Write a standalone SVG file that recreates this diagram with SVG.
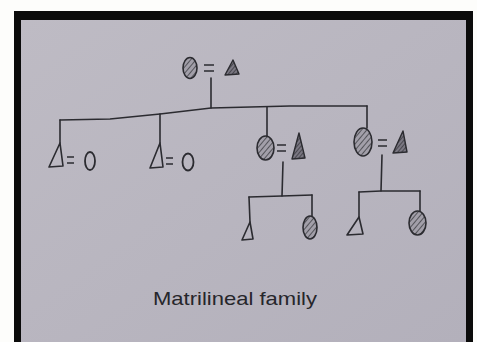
<svg xmlns="http://www.w3.org/2000/svg" width="477" height="342" viewBox="0 0 477 342">
<defs>
<linearGradient id="paper" x1="0" y1="0" x2="1" y2="1">
<stop offset="0" stop-color="#bebbc4"/>
<stop offset="1" stop-color="#b3b0bb"/>
</linearGradient>
<pattern id="hatch" patternUnits="userSpaceOnUse" width="4" height="4" patternTransform="rotate(40)">
<rect width="4" height="4" fill="#a29fa9"/>
<line x1="0" y1="0" x2="0" y2="4" stroke="#3a3a40" stroke-width="1.5"/>
</pattern>
<pattern id="hatchT" patternUnits="userSpaceOnUse" width="3" height="3" patternTransform="rotate(40)">
<rect width="3" height="3" fill="#7a7782"/>
<line x1="0" y1="0" x2="0" y2="3" stroke="#2e2e33" stroke-width="1.3"/>
</pattern>
</defs>
<style>
.ln{fill:none;stroke:#2b2b30;stroke-width:1.6;stroke-linecap:round;stroke-linejoin:round}
.f{fill:url(#hatch);stroke:#2b2b30;stroke-width:1.6}
.m{fill:none;stroke:#2b2b30;stroke-width:1.6;stroke-linejoin:round}
.ms{fill:url(#hatchT);stroke:#2b2b30;stroke-width:1.4;stroke-linejoin:round}
.o{fill:none;stroke:#2b2b30;stroke-width:1.8}
.eq{fill:none;stroke:#2b2b30;stroke-width:1.4}
.cap{font-family:"Liberation Sans",Arial,sans-serif;font-size:19px;fill:#26262b}
</style>
<rect x="0" y="0" width="477" height="342" fill="#fdfdfb"/>
<rect x="14" y="11" width="459" height="331" fill="#0b0b0b"/>
<rect x="21" y="20" width="445" height="322" fill="url(#paper)"/>

<g id="connectors">
<path class="ln" d="M211 78 L211 108"/>
<path class="ln" d="M60 120 L110 119 L160 114 L211 108 L290 106 L367 106"/>
<path class="ln" d="M60 120 L60 143"/>
<path class="ln" d="M160 114 L160 143"/>
<path class="ln" d="M267 107 L267 136"/>
<path class="ln" d="M367 106 L367 128"/>
<path class="ln" d="M283 162 L282 196"/>
<path class="ln" d="M249 197 L282 196 L312 195"/>
<path class="ln" d="M249 197 L250 222"/>
<path class="ln" d="M312 195 L312 216"/>
<path class="ln" d="M382 155 L381 191"/>
<path class="ln" d="M359 192 L381 191 L420 191"/>
<path class="ln" d="M359 192 L359 217"/>
<path class="ln" d="M420 191 L420 211"/>
</g>

<g id="top-couple">
<ellipse class="f" cx="190" cy="68" rx="7" ry="10.5"/>
<path class="eq" d="M204 65 L214 65 M204 71 L214 71"/>
<path class="ms" d="M233 60 L225 75 L239 74 Z"/>
</g>

<g id="child1">
<path class="m" d="M60 143 L49 167 L63 166 Z"/>
<path class="eq" d="M67 157 L74 157 M67 163 L74 163"/>
<ellipse class="o" cx="90" cy="161" rx="5" ry="9"/>
</g>

<g id="child2">
<path class="m" d="M160 143 L150 168 L163 167 Z"/>
<path class="eq" d="M166 158 L173 158 M166 164 L173 164"/>
<ellipse class="o" cx="188" cy="162" rx="5.5" ry="8.5"/>
</g>

<g id="child3">
<ellipse class="f" cx="265.5" cy="148" rx="8.5" ry="12"/>
<path class="eq" d="M277 145 L286 145 M277 151 L286 151"/>
<path class="ms" d="M299 133 L292 159 L305 158 Z"/>
</g>

<g id="child4">
<ellipse class="f" cx="363" cy="142" rx="9" ry="14"/>
<path class="eq" d="M378 140 L387 140 M378 146 L387 146"/>
<path class="ms" d="M403 131 L393 153 L407 152 Z"/>
</g>

<g id="gc1">
<path class="m" d="M250 222 L242 240 L253 239 Z"/>
</g>
<g id="gc2">
<ellipse class="f" cx="310" cy="227.5" rx="7" ry="11.5"/>
</g>
<g id="gc3">
<path class="m" d="M359 217 L347 235 L363 234 Z"/>
</g>
<g id="gc4">
<ellipse class="f" cx="417.5" cy="223" rx="8.5" ry="12"/>
</g>

<text class="cap" x="153" y="305" textLength="164" lengthAdjust="spacingAndGlyphs">Matrilineal family</text>
</svg>
